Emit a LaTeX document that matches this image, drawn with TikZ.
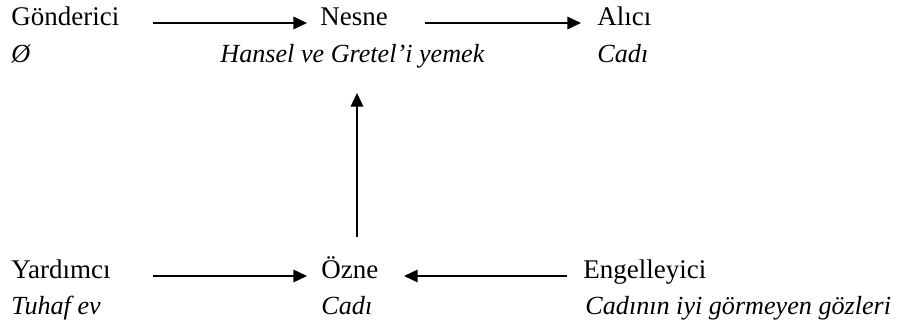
\documentclass[tikz,border=0pt]{standalone}
\usepackage{fontspec}
\setmainfont{Liberation Serif}
\usepackage{tikz}
\usetikzlibrary{arrows.meta}
\tikzstyle{mylabel} = [anchor=base west, inner sep=0pt, font=\fontsize{13}{15}\selectfont]
\tikzstyle{myalt} = [mylabel, font=\fontsize{12.6}{15}\selectfont\itshape]
\tikzstyle{myarrow} = [draw=black, line width=0.9pt, -{Triangle[length=2.3mm,width=2.1mm]}]

\begin{document}
\begin{tikzpicture}[x=0.016933cm, y=0.016933cm]
	\useasboundingbox (0,0) rectangle (901,327);     %dimensione della pagina
	% riga superiore
	\node [mylabel] (gonderici) at (11,301) {Gönderici};
	\node [myalt] (gondericiAlt) at (11,264) {Ø};
	\node [mylabel] (nesne) at (320,301) {Nesne};
	\node [myalt] (nesneAlt) at (220,264) {Hansel ve Gretel’i yemek};
	\node [mylabel] (alici) at (597,301) {Alıcı};
	\node [myalt] (aliciAlt) at (597,264) {Cadı};
	% riga inferiore
	\node [mylabel] (yardimci) at (11,48) {Yardımcı};
	\node [myalt] (yardimciAlt) at (11,12) {Tuhaf ev};
	\node [mylabel] (ozne) at (321,48) {Özne};
	\node [myalt] (ozneAlt) at (321,12) {Cadı};
	\node [mylabel] (engelleyici) at (583,48) {Engelleyici};
	\node [myalt] (engelleyiciAlt) at (585,12) {Cadının iyi görmeyen gözleri};
	% frecce
	\draw [myarrow] ([shift={(142,3)}]gonderici.base west) -- ([shift={(-13,3)}]nesne.base west);
	\draw [myarrow] ([shift={(105,3)}]nesne.base west) -- ([shift={(-16,3)}]alici.base west);
	\draw [myarrow] ([shift={(142,3)}]yardimci.base west) -- ([shift={(-14,3)}]ozne.base west);
	\draw [myarrow] ([shift={(-16,3)}]engelleyici.base west) -- ([shift={(83,3)}]ozne.base west);
	\draw [myarrow] ([shift={(36,42)}]ozne.base west) -- ([shift={(37,-67)}]nesne.base west);
\end{tikzpicture}
\end{document}
